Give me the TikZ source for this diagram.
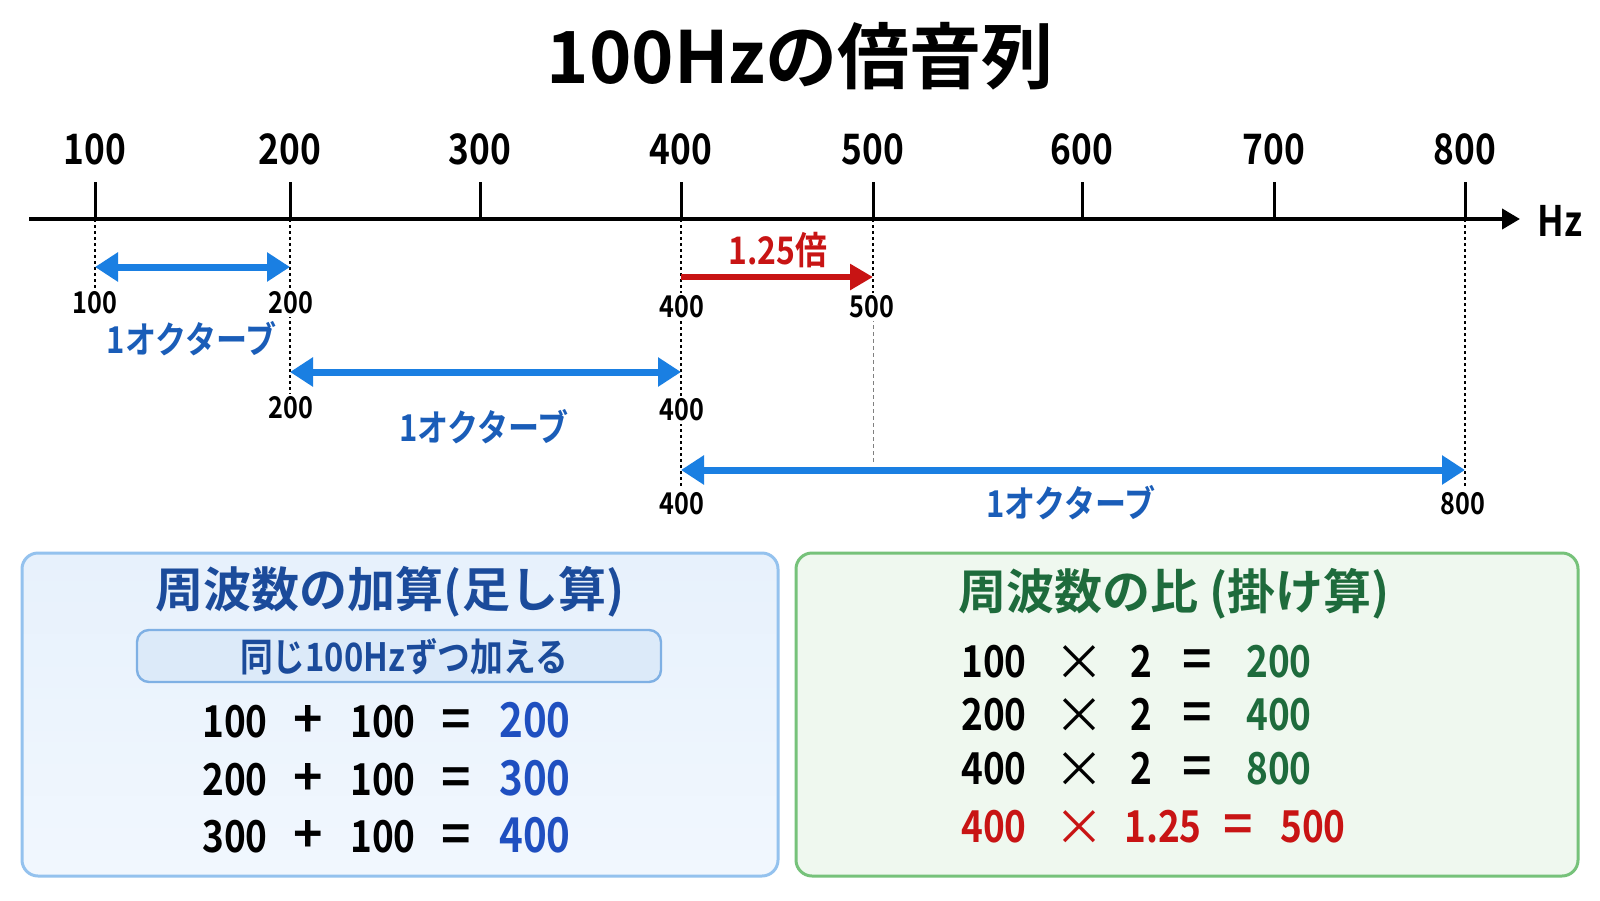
\documentclass[tikz,border=0pt]{standalone}
\usepackage{fontspec}
\setmainfont{Noto Sans CJK JP}[BoldFont={* Bold}]
\newfontfamily\cf{Noto Sans CJK JP}[FakeStretch=0.84,BoldFont={* Bold}]
\usetikzlibrary{arrows.meta}
\definecolor{arrowblue}{HTML}{1A7FE2}
\definecolor{octtext}{HTML}{1A5DB8}
\definecolor{redc}{HTML}{C81414}
\definecolor{ltitle}{HTML}{1B4B9B}
\definecolor{lres}{HTML}{1F4FC0}
\definecolor{lfill}{HTML}{E7F1FC}
\definecolor{lfillb}{HTML}{F1F7FE}
\definecolor{lborder}{HTML}{94C2EE}
\definecolor{ifill}{HTML}{DCEAF9}
\definecolor{iborder}{HTML}{7FB0E4}
\definecolor{rfill}{HTML}{EFF8EF}
\definecolor{rborder}{HTML}{76C27A}
\definecolor{gtitle}{HTML}{1E6B3C}
\begin{document}
\begin{tikzpicture}[x=0.5pt,y=-0.5pt,
  tlab/.style={font=\cf\bfseries\fontsize{21}{24}\selectfont, inner sep=0pt},
  slab/.style={font=\cf\bfseries\fontsize{15}{17}\selectfont, fill=white, inner sep=1.5pt},
  octlab/.style={font=\cf\bfseries\fontsize{18.5}{20}\selectfont, text=octtext},
  dotl/.style={line width=0.8pt, dash pattern=on 1.5pt off 1.5pt},
  dashg/.style={line width=0.5pt, gray, dash pattern=on 2pt off 1.5pt},
  barrow/.style={line width=3.5pt, arrowblue, {Triangle[length=11.5pt,width=14pt]}-{Triangle[length=11.5pt,width=14pt]}},
  rarrow/.style={line width=3pt, redc, -{Triangle[length=11.5pt,width=12.5pt]}},
  rowbase/.style={text height=16pt, text depth=0pt, inner sep=0pt},
  row/.style={rowbase, font=\cf\bfseries\fontsize{22}{24}\selectfont},
  res/.style={rowbase, font=\cf\bfseries\fontsize{24}{26}\selectfont},
  op/.style={rowbase, font=\bfseries\fontsize{25}{26}\selectfont},
  mul/.style={rowbase, font=\fontsize{25}{26}\selectfont, yshift=-1.5pt},
  boxtitle/.style={font=\bfseries\fontsize{24}{28}\selectfont},
]
\useasboundingbox[fill=white] (0,0) rectangle (1600,900);

% title
\node[font=\bfseries\fontsize{36}{40}\selectfont] (title) at (800,56) {100Hzの倍音列};

% axis
\coordinate (ax0) at (29,219);
\coordinate (ax1) at (1520,219);
\foreach \f/\x in {100/95,200/290,300/480,400/681,500/873,600/1082,700/1274,800/1465}{
  \coordinate (t\f) at (\x,219);
  \coordinate (tt\f) at (\x,182);
  \node[tlab] (L\f) at (\x,149) {\f};
  \draw[line width=1.5pt] (tt\f) -- (t\f);
}
\draw[line width=2pt, -{Triangle[length=9pt,width=10pt]}] (ax0) -- (ax1);
\node[tlab] (hz) at (1560,221) {Hz};

% dotted guide lines
\coordinate (e100) at (95,290);
\coordinate (e200) at (290,395);
\coordinate (e400) at (681,488);
\coordinate (e500a) at (873,298);
\coordinate (s500b) at (873,318);
\coordinate (e500b) at (873,462);
\coordinate (e800) at (1465,488);
\draw[dotl] (t100) -- (e100);
\draw[dotl] (t200) -- (e200);
\draw[dotl] (t400) -- (e400);
\draw[dotl] (t500) -- (e500a);
\draw[dashg] (s500b) -- (e500b);
\draw[dotl] (t800) -- (e800);

% arrows
\coordinate (a1l) at (95,267);  \coordinate (a1r) at (290,267);
\coordinate (a2l) at (290,372); \coordinate (a2r) at (681,372);
\coordinate (a3l) at (681,470); \coordinate (a3r) at (1465,470);
\coordinate (rl) at (681,277);  \coordinate (rr) at (873,277);
\draw[barrow] (a1l) -- (a1r);
\draw[barrow] (a2l) -- (a2r);
\draw[barrow] (a3l) -- (a3r);
\draw[rarrow] (rl) -- (rr);

% small labels
\node[slab] (s1a) at (95,303) {100};
\node[slab] (s1b) at (291,303) {200};
\node[slab] (sra) at (682,307) {400};
\node[slab] (srb) at (872,307) {500};
\node[slab] (s2a) at (291,408) {200};
\node[slab] (s2b) at (682,410) {400};
\node[slab] (s3a) at (682,504) {400};
\node[slab] (s3b) at (1463,504) {800};

\node[octlab] (o1) at (192,339) {1オクターブ};
\node[octlab] (o2) at (484,427) {1オクターブ};
\node[octlab] (o3) at (1071,503) {1オクターブ};
\node[font=\cf\bfseries\fontsize{19}{21}\selectfont, text=redc] (r125) at (778,250) {1.25倍};

% left box
\draw[line width=1.5pt, draw=lborder, top color=lfill, bottom color=lfillb, rounded corners=8pt] (22,553) rectangle (778,876);
\node[boxtitle, text=ltitle] (ltit) at (390,592) {周波数の加算(足し算)};
\draw[line width=1.2pt, draw=iborder, fill=ifill, rounded corners=6pt] (137,630) rectangle (661,682);
\node[font=\cf\bfseries\fontsize{19.5}{22}\selectfont, text=ltitle] (isub) at (404,657) {同じ100Hzずつ加える};
\foreach \a/\r/\y [count=\i] in {100/200/721,200/300/779,300/400/836}{
  \node[row] (la\i) at (235,\y) {\a};
  \node[op] (lp\i) at (308,\y) {+};
  \node[row] (lb\i) at (383,\y) {100};
  \node[op] (le\i) at (456,\y) {=};
  \node[res, text=lres] (lr\i) at (535,\y) {\r};
}

% right box
\draw[line width=1.5pt, draw=rborder, fill=rfill, rounded corners=8pt] (796,553) rectangle (1578,876);
\node[boxtitle, text=gtitle] (rtit) at (1174,594) {周波数の比 (掛け算)};
\foreach \a/\r/\y [count=\i] in {100/200/661,200/400/714,400/800/768}{
  \node[row] (ra\i) at (994,\y) {\a};
  \node[mul] (rx\i) at (1079,\y) {×};
  \node[row] (rb\i) at (1141,\y) {2};
  \node[op] (re\i) at (1197,\y) {=};
  \node[row, text=gtitle] (rr\i) at (1279,\y) {\r};
}
\node[row, text=redc] (ra4) at (994,826) {400};
\node[mul, text=redc] (rx4) at (1079,826) {×};
\node[row, text=redc] (rb4) at (1163,826) {1.25};
\node[op, text=redc] (re4) at (1238,826) {=};
\node[row, text=redc] (rr4) at (1313,826) {500};
\end{tikzpicture}
\end{document}
